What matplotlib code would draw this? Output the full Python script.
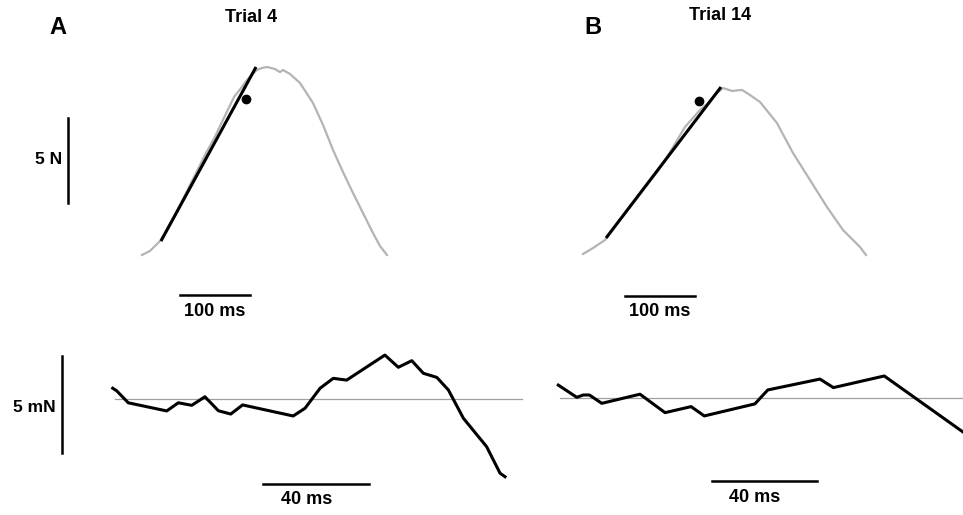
import matplotlib
matplotlib.use("Agg")
import matplotlib.pyplot as plt
import numpy as np

plt.rcParams['font.family'] = ['Liberation Sans', 'DejaVu Sans']
plt.rcParams['font.weight'] = 'bold'

# ---- force traces (ms, N) ----
a_force_t = [0, 11.4, 25.7, 47.1, 68.6, 90, 104, 117, 131.4, 143, 150, 157, 164.3, 171.4,
             178.6, 190, 197.1, 201.4, 211.4, 225.7, 244.3, 258.6, 272.9, 287.1, 301.4,
             315.7, 330, 340, 350]
a_force_f = [0, 0.24, 0.82, 2.35, 4.12, 5.88, 6.94, 8.06, 9.29, 9.9, 10.3, 10.6, 10.88, 11.0,
             11.06, 10.94, 10.76, 10.88, 10.65, 10.12, 8.94, 7.65, 6.18, 4.88, 3.65,
             2.47, 1.29, 0.53, 0]
a_fit_t = [27.1, 162.9]
a_fit_f = [0.82, 11.06]
a_dot = (148.6, 9.18)

b_force_t = [0, 14.3, 31.4, 52.9, 81.4, 110, 128.6, 145.7, 167.1, 178.6, 190, 200, 212.9,
             227.1, 238.6, 252.9, 277.1, 300, 324.3, 348.6, 371.4, 395.7, 404.3]
b_force_f = [0.06, 0.41, 0.88, 2.06, 3.59, 5.12, 6.35, 7.53, 8.53, 8.94, 9.47, 9.82, 9.65,
             9.71, 9.41, 9.0, 7.76, 6.0, 4.41, 2.82, 1.47, 0.47, 0]
b_fit_t = [32.9, 197.1]
b_fit_f = [1.0, 9.88]
b_dot = (165.7, 9.06)

# ---- residual traces (ms, mN) ----
a_res_t = [0, 1.5, 5.9, 20.5, 24.9, 30.0, 35.0, 40.1, 44.8, 49.3, 68.5, 73.0, 78.7, 83.7,
           88.8, 103.3, 108.4, 113.5, 117.9, 123.0, 127.4, 133.1, 141.9, 147.0, 148.9]
a_res_f = [0.57, 0.44, -0.18, -0.60, -0.18, -0.31, 0.13, -0.59, -0.76, -0.29, -0.86, -0.46,
           0.57, 1.08, 0.99, 2.28, 1.65, 1.99, 1.34, 1.13, 0.48, -0.98, -2.44, -3.81, -3.99]
a_zero = [0.9, 155.3]

b_res_t = [0, 7.0, 9.5, 11.8, 16.5, 31.0, 40.5, 50.4, 55.4, 74.6, 79.5, 99.3, 104.4, 123.7, 153.6]
b_res_f = [0.65, 0.02, 0.14, 0.14, -0.29, 0.18, -0.77, -0.46, -0.94, -0.32, 0.40, 0.96,
           0.52, 1.12, -1.77]
b_zero = [0.6, 153.6]

W, H = 963, 515
fig = plt.figure(figsize=(W / 100, H / 100), dpi=100)


def panel(x0, y0, sx, sy):
    # full-figure axes whose data origin sits at pixel (x0, y0)
    ax = fig.add_axes([0, 0, 1, 1])
    ax.set_xlim(-x0 / sx, (W - x0) / sx)
    ax.set_ylim((y0 - H) / sy, y0 / sy)
    ax.axis('off')
    ax.patch.set_alpha(0)
    return ax


def ftext(x, y, s, **kw):
    fig.text(x / W, 1 - y / H, s, ha='center', va='center', fontweight='bold', **kw)


gray = '#b4b4b4'

# top A
ax = panel(142, 255, 0.7, 17)
ax.plot(a_force_t, a_force_f, color=gray, lw=1.6)
ax.plot(a_fit_t, a_fit_f, color='black', lw=2.2, solid_capstyle='butt')
ax.plot(*a_dot, 'o', color='black', ms=6)
ax.plot([-105.7, -105.7], [3.06, 8.06], color='black', lw=1.8)
ax.plot([54.3, 154.3], [-2.35, -2.35], color='black', lw=1.8)

# top B
ax = panel(583, 255, 0.7, 17)
ax.plot(b_force_t, b_force_f, color=gray, lw=1.6)
ax.plot(b_fit_t, b_fit_f, color='black', lw=2.2, solid_capstyle='butt')
ax.plot(*b_dot, 'o', color='black', ms=6)
ax.plot([60, 160], [-2.41, -2.41], color='black', lw=1.8)

# bottom A
ax = panel(112.7, 399.3, 2.635, 19.4)
ax.plot(a_zero, [0, 0], color='#a0a0a0', lw=0.9)
ax.plot(a_res_t, a_res_f, color='black', lw=2.2)
ax.plot([-19.4, -19.4], [-2.78, 2.23], color='black', lw=1.8)
ax.plot([57.2, 97.2], [-4.37, -4.37], color='black', lw=1.8)

# bottom B
ax = panel(558.3, 397.7, 2.635, 19.4)
ax.plot(b_zero, [0, 0], color='#a0a0a0', lw=0.9)
ax.plot(b_res_t, b_res_f, color='black', lw=2.2)
ax.plot([58.2, 98.2], [-4.29, -4.29], color='black', lw=1.8)

# labels
ftext(58, 27, 'A', fontsize=17)
ftext(593, 27, 'B', fontsize=17)
ftext(251, 17, 'Trial 4', fontsize=13)
ftext(720, 16, 'Trial 14', fontsize=13)
fig.text(62 / W, 1 - 160 / H, '5 N', ha='right', va='center', fontsize=12.5, fontweight='bold')
fig.text(56 / W, 1 - 408 / H, '5 mN', ha='right', va='center', fontsize=12.5, fontweight='bold')
ftext(215, 312, '100 ms', fontsize=13)
ftext(660, 312, '100 ms', fontsize=13)
ftext(307, 500, '40 ms', fontsize=13)
ftext(755, 497, '40 ms', fontsize=13)

fig.savefig('out.png', dpi=100)
